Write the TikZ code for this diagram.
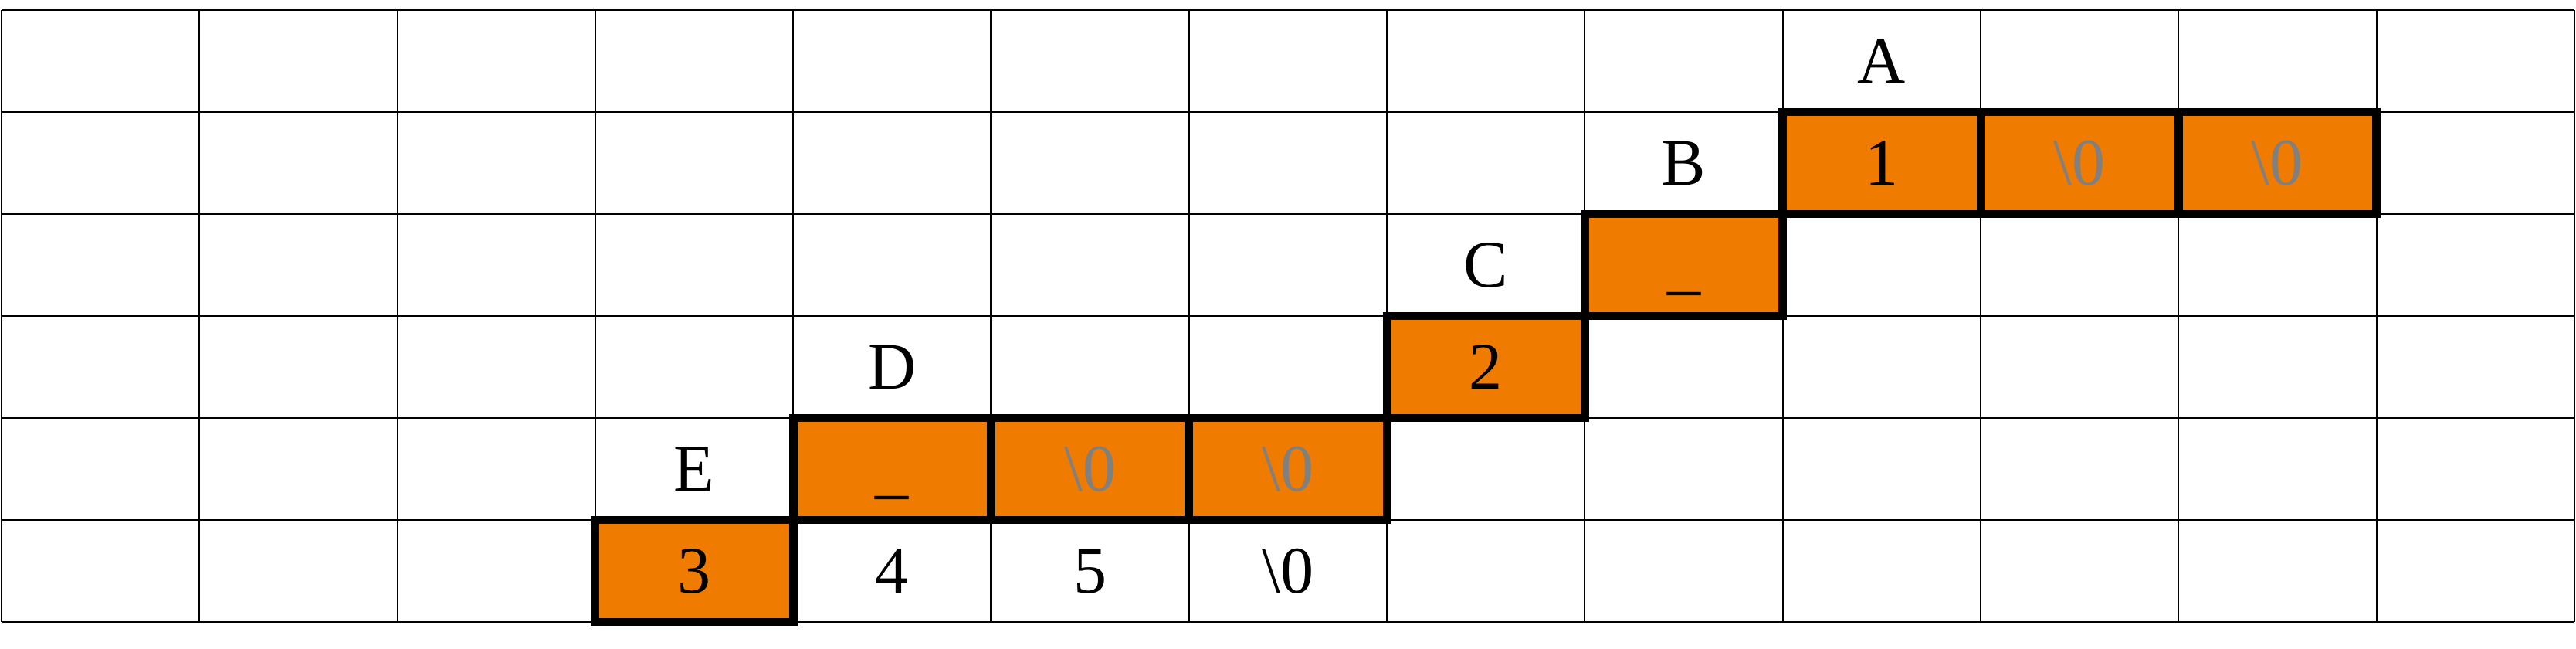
\documentclass[tikz,border=0pt]{standalone}
\usepackage{fontspec}
\setmainfont{Liberation Serif}
\usepackage{tikz}
\usetikzlibrary{positioning}

\definecolor{cellorange}{RGB}{239,123,0}
\definecolor{nullgray}{RGB}{128,128,128}

\tikzset{
  gridline/.style={line width=0.6pt, black},
  cell/.style={minimum width=2.563cm, minimum height=1.32cm,
    inner sep=0pt, outer sep=0pt, text height=16.2pt, text depth=0pt,
    font=\fontsize{24.5}{28}\selectfont},
  used/.style={cell, draw=black, line width=3.1pt, fill=cellorange},
  nul/.style={text=nullgray},
}

\begin{document}
\begin{tikzpicture}[x=2.563cm, y=1.32cm, node distance=0pt]
  \useasboundingbox (-0.02cm,-0.34cm) rectangle (33.34cm,8.05cm);

  % background grid, 13 x 6
  \foreach \i in {0,...,13}
    \draw[gridline] (\i,0) -- (\i,6);
  \foreach \j in {0,...,6}
    \draw[gridline] (0,\j) -- (13,\j);

  % string A
  \node[used] (a1) at (9.5,4.5) {1};
  \node[used, nul, right=of a1] (a2) {\textbackslash 0};
  \node[used, nul, right=of a2] (a3) {\textbackslash 0};
  \node[cell, above=of a1] (labA) {A};

  % string B
  \node[used] (b1) at (8.5,3.5) {\_};
  \node[cell, above=of b1] (labB) {B};

  % string C
  \node[used] (c1) at (7.5,2.5) {2};
  \node[cell, above=of c1] (labC) {C};

  % string D
  \node[used] (d1) at (4.5,1.5) {\_};
  \node[used, nul, right=of d1] (d2) {\textbackslash 0};
  \node[used, nul, right=of d2] (d3) {\textbackslash 0};
  \node[cell, above=of d1] (labD) {D};

  % string E and the rest of its buffer
  \node[used] (e1) at (3.5,0.5) {3};
  \node[cell, right=of e1] (e2) {4};
  \node[cell, right=of e2] (e3) {5};
  \node[cell, right=of e3] (e4) {\textbackslash 0};
  \node[cell, above=of e1] (labE) {E};
\end{tikzpicture}
\end{document}
